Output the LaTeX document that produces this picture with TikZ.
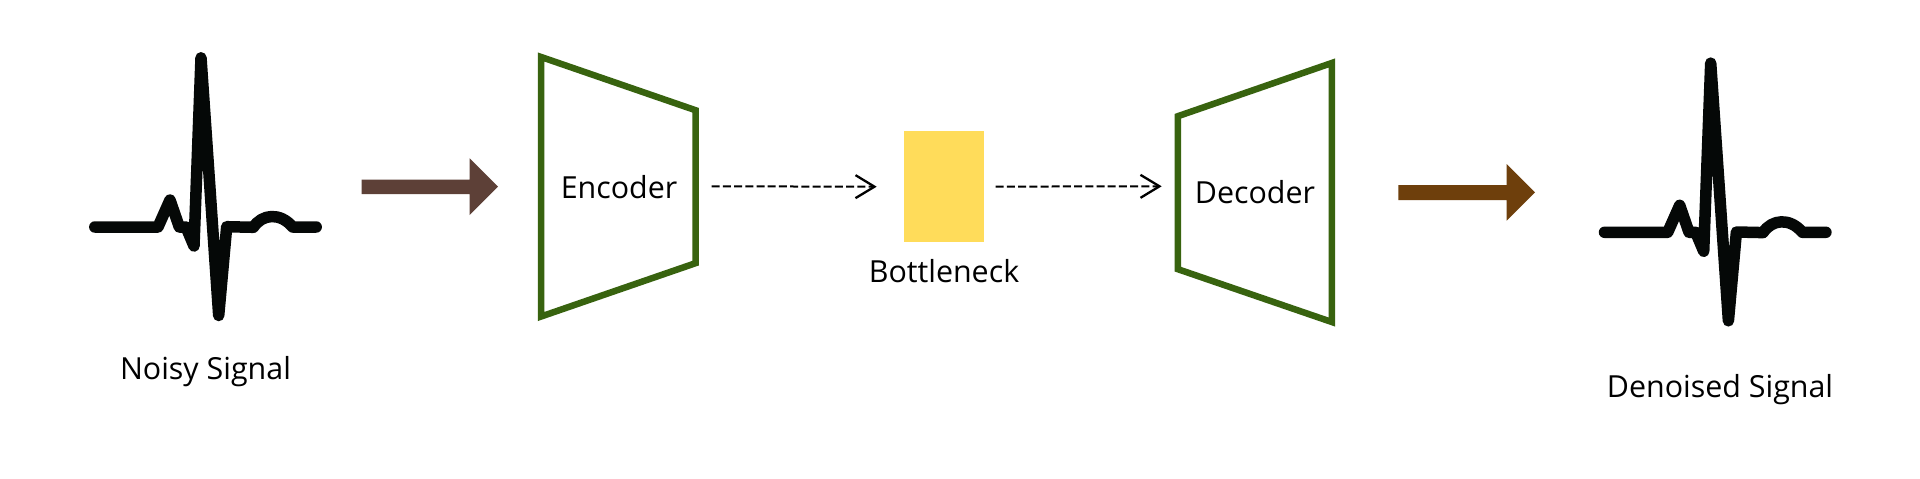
\documentclass[tikz,border=0pt]{standalone}
\usepackage{fontspec}
\setmainfont{Open Sans}
\usetikzlibrary{arrows.meta}
\definecolor{ecgblack}{HTML}{050807}
\definecolor{trapgreen}{HTML}{38630F}
\definecolor{arrowbrownA}{HTML}{5D4037}
\definecolor{arrowbrownB}{HTML}{6E3F0C}
\definecolor{bneckyellow}{HTML}{FFDC5A}
\tikzset{
  x=1pt,y=-1pt,
  ecgline/.style={draw=ecgblack,line width=11.5pt,line cap=round,line join=round},
  trapbox/.style={draw=trapgreen,line width=6.5pt,line join=miter,fill=white},
  lbl/.style={anchor=base,inner sep=0pt,text=black,font=\fontsize{30.4}{36}\selectfont},
  dasharrow/.style={draw=black,line width=2pt,dash pattern=on 8pt off 3.2pt,
    -{Straight Barb[length=19pt,width=23pt,line width=2.3pt]}},
  pics/ecg/.style={code={
    \draw[ecgline] (94.8,227) -- (158,227) -- (170,200) -- (179.3,227) -- (186,227)
      -- (194,246) -- (201,57.8) -- (218.7,315.5) -- (226.7,226.7) -- (253.3,227.3)
      .. controls (262,214) and (280,212) .. (292.7,227) -- (316.2,227);
  }}
}
\begin{document}
\begin{tikzpicture}
\useasboundingbox (0,0) rectangle (1920,479);
\fill[white] (0,0) rectangle (1920,479);

% signals
\pic at (0,0) {ecg};
\pic at (1509.7,5.3) {ecg};
\node[lbl] (noisy) at (205.5,379) {Noisy Signal};
\node[lbl] (denoised) at (1720,397) {Denoised Signal};

% thick arrows
\fill[arrowbrownA] (361.7,179.7) -- (469.7,179.7) -- (469.7,158.3) -- (498,186.7)
  -- (469.7,215) -- (469.7,194) -- (361.7,194) -- cycle;
\fill[arrowbrownB] (1398.3,185) -- (1506.7,185) -- (1506.7,164) -- (1535,192.3)
  -- (1506.7,220.7) -- (1506.7,200) -- (1398.3,200) -- cycle;

% encoder / decoder
\draw[trapbox] (541.1,57) -- (695.5,110.2) -- (695.5,263.2) -- (541.1,316.5) -- cycle;
\draw[trapbox] (1177.9,116.2) -- (1331.8,63) -- (1331.8,322) -- (1177.9,269.2) -- cycle;
\node[lbl] (encoder) at (619,198.7) {Encoder};
\node[lbl] (decoder) at (1255,203.3) {Decoder};

% bottleneck
\node[fill=bneckyellow,draw=none,inner sep=0pt,minimum width=79.7pt,minimum height=111.3pt] (bneck) at (943.85,186.65) {};
\node[lbl] (bnecklabel) at (944,282.7) {Bottleneck};

% connectors
\coordinate (encout) at (711.7,186.3);
\coordinate (bnin) at (876.7,186.7);
\coordinate (bnout) at (995.7,186.6);
\coordinate (decin) at (1161.7,186.3);
\draw[dasharrow] (encout) -- (bnin);
\draw[dasharrow] (bnout) -- (decin);
\end{tikzpicture}
\end{document}
